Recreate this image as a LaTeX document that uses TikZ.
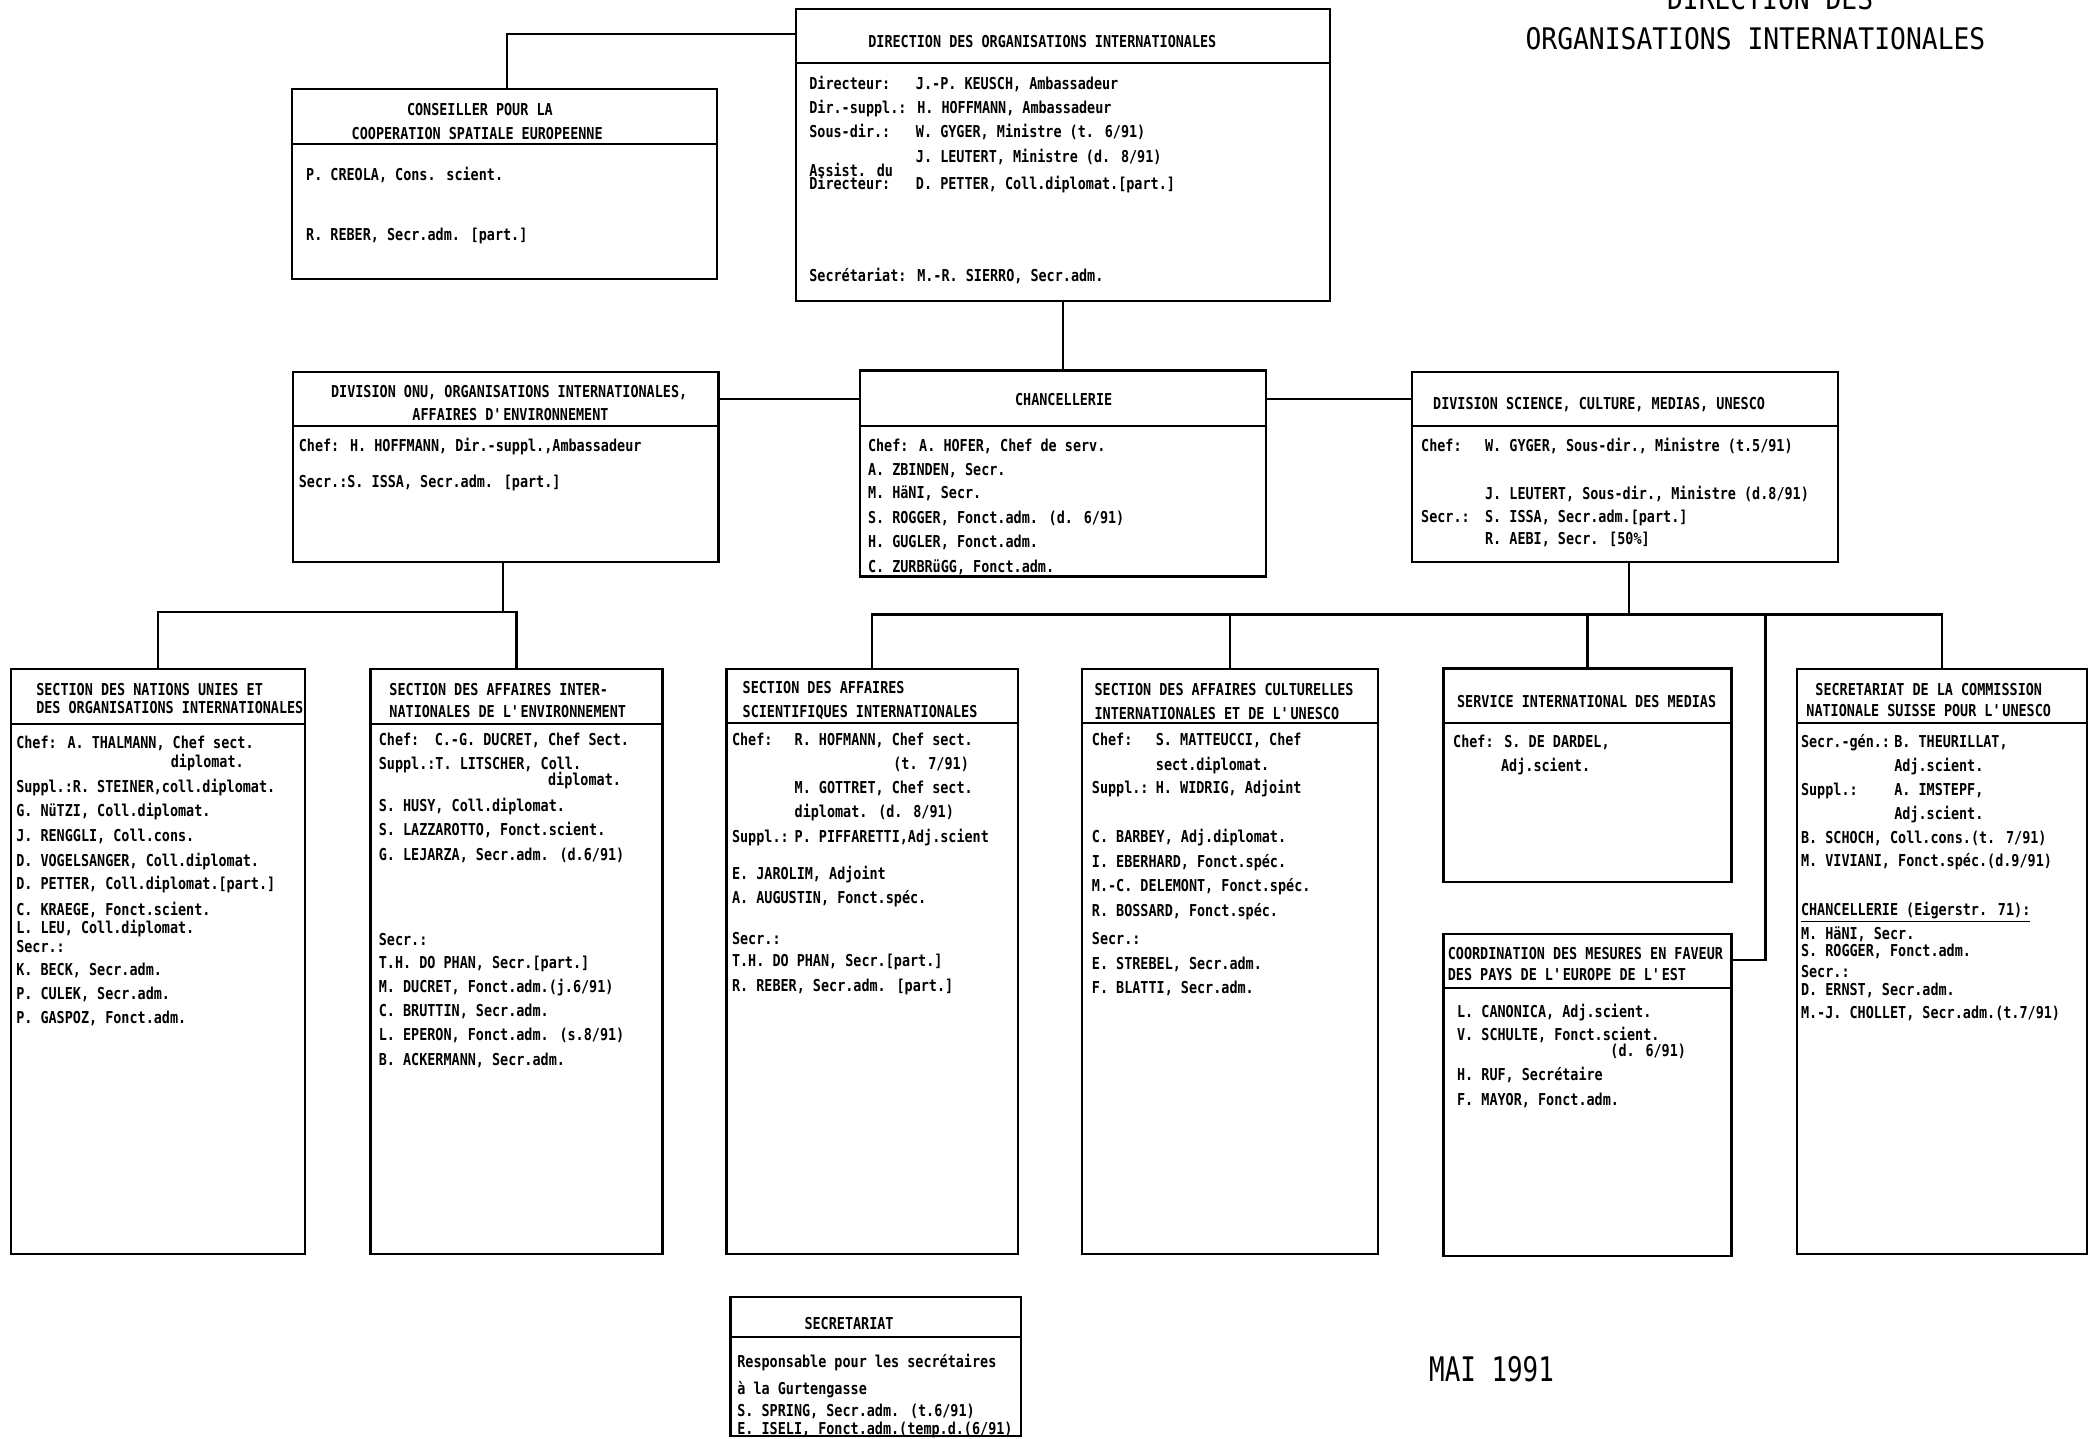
\documentclass[tikz,border=0pt]{standalone}
\usepackage{fontspec}
\setmainfont{DejaVu Sans Mono}[FakeStretch=0.82]
\newfontfamily\titlefont{DejaVu Sans Mono}[FakeStretch=0.886]
\newfontfamily\datefont{DejaVu Sans Mono}[FakeStretch=0.765]
\newcommand\lv[2]{\makebox[#1pt][l]{#2}}
\newcommand\ap{\textquotesingle}
\tikzset{
  box/.style={draw, line width=1.6pt, inner sep=0pt, outer sep=0pt},
  hline/.style={line width=1.6pt},
  conn/.style={line width=1.6pt},
  txt/.style={anchor=base west, inner sep=0pt, font=\fontsize{12.3}{14}\selectfont\bfseries},
  ctxt/.style={anchor=base, inner sep=0pt, font=\fontsize{12.3}{14}\selectfont\bfseries},
  bigtitle/.style={anchor=base, inner sep=0pt, font=\titlefont\fontsize{22.3}{26}\selectfont},
  datetxt/.style={anchor=base, inner sep=0pt, font=\datefont\fontsize{25.4}{30}\selectfont},
}
\newcommand\orgbox[6]{%
  \node[box, anchor=north west, minimum width={(#4-#2)*1pt}, minimum height={(#5-#3)*1pt}] (#1) at (#2,#3) {};
  \draw[hline] (#2,#6) -- (#4,#6);
}
\newcommand\txtlines[3]{%
  \foreach \myy/\mytext [count=\myi] in {#3} {\node[txt] (#1-\myi) at (#2,{\myy+4.5}) {\mytext};}%
}
\begin{document}
\begin{tikzpicture}[x=1pt,y=-1pt]
\useasboundingbox (0,0) rectangle (1568,1079);
\fill[white] (0,0) rectangle (1568,1079);

% title
\node[bigtitle] (title1) at (1328,7.5) {DIRECTION DES};
\node[bigtitle] (title2) at (1317,37.5) {ORGANISATIONS INTERNATIONALES};
\node[datetxt] (date) at (1119,1036.5) {MAI 1991};

% Direction
\orgbox{dir}{597}{7}{998}{226}{47.5}
\node[ctxt] (dir-h) at (782,35.5) {DIRECTION DES ORGANISATIONS INTERNATIONALES};
\txtlines{dir}{607}{62.5/{\lv{80}{Directeur:}J.-P. KEUSCH, Ambassadeur},
  81/{Dir.-suppl.: H. HOFFMANN, Ambassadeur},
  99/{\lv{80}{Sous-dir.:}W. GYGER, Ministre (t. 6/91)},
  117.5/{\lv{80}{}J. LEUTERT, Ministre (d. 8/91)},
  128/{Assist. du},
  138/{\lv{80}{Directeur:}D. PETTER, Coll.diplomat.[part.]},
  207/{Secrétariat: M.-R. SIERRO, Secr.adm.}}

% Conseiller
\orgbox{cons}{219}{67}{538}{209.5}{108}
\node[ctxt] (cons-h1) at (360,86.5) {CONSEILLER POUR LA};
\node[ctxt] (cons-h2) at (358,104.5) {COOPERATION SPATIALE EUROPEENNE};
\txtlines{cons}{229.5}{131/{P. CREOLA, Cons. scient.}, 176/{R. REBER, Secr.adm. [part.]}}

% Division ONU
\orgbox{onu}{220}{279}{539}{421.5}{319.5}
\node[ctxt] (onu-h1) at (382,298.5) {DIVISION ONU, ORGANISATIONS INTERNATIONALES,};
\node[ctxt] (onu-h2) at (383,315.5) {AFFAIRES D\ap ENVIRONNEMENT};
\txtlines{onu}{224}{334/{Chef: H. HOFFMANN, Dir.-suppl.,Ambassadeur}, 361/{Secr.:S. ISSA, Secr.adm. [part.]}}

% Chancellerie
\orgbox{chan}{645}{278}{950}{432.5}{319.5}
\node[ctxt] (chan-h) at (798,304.5) {CHANCELLERIE};
\txtlines{chan}{651}{334/{Chef: A. HOFER, Chef de serv.}, 352/{A. ZBINDEN, Secr.},
  369.5/{M. HäNI, Secr.}, 388/{S. ROGGER, Fonct.adm. (d. 6/91)},
  406/{H. GUGLER, Fonct.adm.}, 425/{C. ZURBRüGG, Fonct.adm.}}

% Division Science
\orgbox{dsci}{1059.5}{279}{1379}{421.5}{319.5}
\node[txt] (dsci-h) at (1075,307.5) {DIVISION SCIENCE, CULTURE, MEDIAS, UNESCO};
\txtlines{dsci}{1066}{334/{\lv{48}{Chef:}W. GYGER, Sous-dir., Ministre (t.5/91)},
  370/{\lv{48}{}J. LEUTERT, Sous-dir., Ministre (d.8/91)},
  387.5/{\lv{48}{Secr.:}S. ISSA, Secr.adm.[part.]},
  404/{\lv{48}{}R. AEBI, Secr. [50\%]}}

% Section Nations Unies
\orgbox{snu}{8}{502}{229}{941}{543}
\node[txt] (snu-h1) at (27,521.5) {SECTION DES NATIONS UNIES ET};
\node[txt] (snu-h2) at (27,535.5) {DES ORGANISATIONS INTERNATIONALES};
\txtlines{snu}{12}{557/{Chef: A. THALMANN, Chef sect.}, 590/{Suppl.:R. STEINER,coll.diplomat.},
  608/{G. NüTZI, Coll.diplomat.}, 627/{J. RENGGLI, Coll.cons.},
  645.5/{D. VOGELSANGER, Coll.diplomat.}, 663/{D. PETTER, Coll.diplomat.[part.]},
  682/{C. KRAEGE, Fonct.scient.}, 696/{L. LEU, Coll.diplomat.}, 710/{Secr.:},
  727/{K. BECK, Secr.adm.}, 745.5/{P. CULEK, Secr.adm.}, 763/{P. GASPOZ, Fonct.adm.}}
\node[txt] (snu-x) at (128,575.5) {diplomat.};

% Section Environnement
\orgbox{senv}{278}{502}{497}{941}{543}
\node[txt] (senv-h1) at (292,521.5) {SECTION DES AFFAIRES INTER-};
\node[txt] (senv-h2) at (292,538.5) {NATIONALES DE L\ap ENVIRONNEMENT};
\txtlines{senv}{284}{555/{\lv{42}{Chef:}C.-G. DUCRET, Chef Sect.}, 573/{Suppl.:T. LITSCHER, Coll.},
  604/{S. HUSY, Coll.diplomat.}, 622/{S. LAZZAROTTO, Fonct.scient.},
  641/{G. LEJARZA, Secr.adm. (d.6/91)}, 704.5/{Secr.:},
  722/{T.H. DO PHAN, Secr.[part.]}, 740/{M. DUCRET, Fonct.adm.(j.6/91)},
  758/{C. BRUTTIN, Secr.adm.}, 776/{L. EPERON, Fonct.adm. (s.8/91)},
  795/{B. ACKERMANN, Secr.adm.}}
\node[txt] (senv-x) at (411,589.5) {diplomat.};

% Section scientifique
\orgbox{ssci}{545}{502}{764}{941}{542.5}
\node[txt] (ssci-h1) at (557,520.5) {SECTION DES AFFAIRES};
\node[txt] (ssci-h2) at (557,538.5) {SCIENTIFIQUES INTERNATIONALES};
\txtlines{ssci}{549}{555/{\lv{47}{Chef:}R. HOFMANN, Chef sect.},
  591/{\lv{47}{}M. GOTTRET, Chef sect.}, 609/{\lv{47}{}diplomat. (d. 8/91)},
  627.5/{\lv{47}{Suppl.:}P. PIFFARETTI,Adj.scient},
  655/{E. JAROLIM, Adjoint}, 673/{A. AUGUSTIN, Fonct.spéc.}, 704/{Secr.:},
  720.5/{T.H. DO PHAN, Secr.[part.]}, 739.5/{R. REBER, Secr.adm. [part.]}}
\node[txt] (ssci-x) at (670,577) {(t. 7/91)};

% Section culturelle
\orgbox{scult}{812}{502}{1034}{941}{542.5}
\node[txt] (scult-h1) at (821,522) {SECTION DES AFFAIRES CULTURELLES};
\node[txt] (scult-h2) at (821,539.5) {INTERNATIONALES ET DE L\ap UNESCO};
\txtlines{scult}{819}{555/{\lv{48}{Chef:}S. MATTEUCCI, Chef}, 573.75/{\lv{48}{}sect.diplomat.},
  591/{\lv{48}{Suppl.:}H. WIDRIG, Adjoint}, 627.5/{C. BARBEY, Adj.diplomat.},
  646/{I. EBERHARD, Fonct.spéc.}, 664.5/{M.-C. DELEMONT, Fonct.spéc.},
  683/{R. BOSSARD, Fonct.spéc.}, 704/{Secr.:}, 723/{E. STREBEL, Secr.adm.},
  741/{F. BLATTI, Secr.adm.}}

% Service medias
\orgbox{smed}{1083}{501.5}{1299}{661.5}{542.5}
\node[txt] (smed-h) at (1093,530.5) {SERVICE INTERNATIONAL DES MEDIAS};
\node[txt] (smed-1) at (1090,561) {Chef: S. DE DARDEL,};
\node[txt] (smed-2) at (1126,578.5) {Adj.scient.};

% Coordination
\orgbox{coord}{1083}{700.5}{1299}{942}{741}
\node[txt] (coord-h1) at (1086,719.5) {COORDINATION DES MESURES EN FAVEUR};
\node[txt] (coord-h2) at (1086,735.5) {DES PAYS DE L\ap EUROPE DE L\ap EST};
\txtlines{coord}{1093}{758.7/{L. CANONICA, Adj.scient.}, 776/{V. SCHULTE, Fonct.scient.},
  806/{H. RUF, Secrétaire}, 825/{F. MAYOR, Fonct.adm.}}
\node[txt] (coord-x) at (1208,792.5) {(d. 6/91)};

% Secretariat commission
\orgbox{scom}{1348}{502}{1566}{941}{542.5}
\node[ctxt] (scom-h1) at (1447,522) {SECRETARIAT DE LA COMMISSION};
\node[ctxt] (scom-h2) at (1447,537.5) {NATIONALE SUISSE POUR L\ap UNESCO};
\txtlines{scom}{1351}{556/{\lv{70}{Secr.-gén.:}B. THEURILLAT,}, 574/{\lv{70}{}Adj.scient.},
  592.5/{\lv{70}{Suppl.:}A. IMSTEPF,}, 610/{\lv{70}{}Adj.scient.},
  628/{B. SCHOCH, Coll.cons.(t. 7/91)}, 645.5/{M. VIVIANI, Fonct.spéc.(d.9/91)},
  682.5/{\underline{CHANCELLERIE (Eigerstr. 71):}}, 700.5/{M. HäNI, Secr.},
  713/{S. ROGGER, Fonct.adm.}, 729/{Secr.:}, 742/{D. ERNST, Secr.adm.},
  759.5/{M.-J. CHOLLET, Secr.adm.(t.7/91)}}

% Secretariat
\orgbox{ssec}{548}{973}{766}{1077.5}{1003}
\node[ctxt] (ssec-h) at (637,997.5) {SECRETARIAT};
\txtlines{ssec}{553}{1021.5/{Responsable pour les secrétaires}, 1042/{à la Gurtengasse},
  1058/{S. SPRING, Secr.adm. (t.6/91)}, 1072/{E. ISELI, Fonct.adm.(temp.d.(6/91)}}

% connectors
\draw[conn] ([xshift=2pt]cons.north) |- ([yshift=-18.5pt]dir.north west);
\draw[conn] (dir.south) -- (chan.north);
\draw[conn] ([yshift=-20.5pt]onu.north east) -- ([yshift=-21.5pt]chan.north west);
\draw[conn] ([yshift=-21.5pt]chan.north east) -- ([yshift=-20.5pt]dsci.north west);
\draw[conn] ([xshift=-2pt]onu.south) -- ++(0,37.5);
\draw[conn] (snu.north) -- ++(0,-43) -| (senv.north);
\draw[conn] ([xshift=3pt]dsci.south) -- ++(0,39.5);
\draw[conn] (ssci.north) -- ++(0,-41) -| (scom.north);
\draw[conn] (scult.north) -- ++(0,-41);
\draw[conn] (smed.north) -- ++(0,-40.5);
\coordinate (busc) at (1324.5,461);
\draw[conn] (busc) |- ([yshift=-19.5pt]coord.north east);
\end{tikzpicture}
\end{document}
